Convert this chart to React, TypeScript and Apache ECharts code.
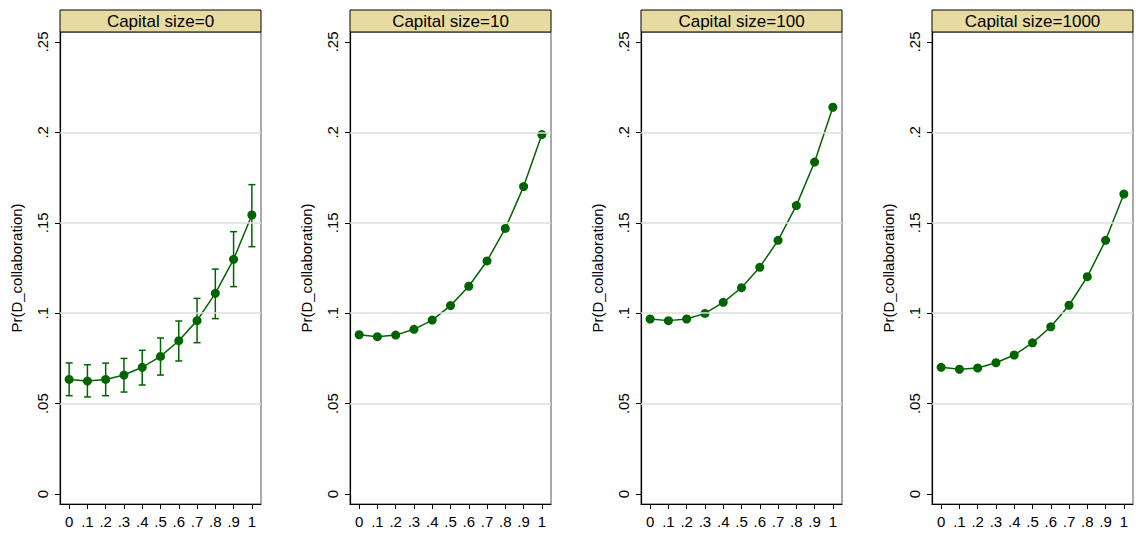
import React, { useEffect, useRef } from "react";
import * as echarts from "echarts";

const xValues = [0, 0.1, 0.2, 0.3, 0.4, 0.5, 0.6, 0.7, 0.8, 0.9, 1];
const yTicks = [0, 0.05, 0.1, 0.15, 0.2, 0.25];
const gridValues = [0.05, 0.1, 0.15, 0.2];
const panelTitles = ["Capital size=0", "Capital size=10", "Capital size=100", "Capital size=1000"];

const est0 = [0.0634, 0.0625, 0.0634, 0.0658, 0.0701, 0.0761, 0.0848, 0.0959, 0.111, 0.1298, 0.1543];
const lo0 = [0.0544, 0.0537, 0.0544, 0.0564, 0.0603, 0.0658, 0.0736, 0.0837, 0.097, 0.1147, 0.1368];
const hi0 = [0.0725, 0.0715, 0.0724, 0.075, 0.0795, 0.0863, 0.0957, 0.1082, 0.1244, 0.1451, 0.1711];

const est10 = [0.0881, 0.087, 0.0879, 0.0911, 0.0962, 0.1042, 0.1149, 0.1289, 0.1469, 0.17, 0.1988];
const lo10 = [0.0877, 0.0866, 0.0875, 0.0907, 0.0958, 0.1037, 0.1143, 0.1282, 0.1461, 0.1691, 0.1976];
const hi10 = [0.0885, 0.0874, 0.0883, 0.0915, 0.0966, 0.1047, 0.1155, 0.1296, 0.1477, 0.1709, 0.2];

const est100 = [0.0968, 0.0959, 0.0968, 0.0999, 0.106, 0.1141, 0.1254, 0.1403, 0.1595, 0.1836, 0.2139];
const est1000 = [0.0701, 0.069, 0.0697, 0.0726, 0.0769, 0.0836, 0.0925, 0.1044, 0.1202, 0.1403, 0.1659];

const panels = [
  { est: est0, lo: lo0, hi: hi0 },
  { est: est10, lo: lo10, hi: hi10 },
  { est: est100, lo: null, hi: null },
  { est: est1000, lo: null, hi: null },
];

const GREEN = "#006400";
const FONT = 'Arial, "Liberation Sans", Helvetica, sans-serif';
const lefts = [60, 350, 641, 932];
const W = 201;
const TOP = 32;
const H = 472;

function fmt(v: number) {
  if (v === 0) return "0";
  if (v === 1) return "1";
  return String(v).replace(/^0/, "");
}

export default function App() {
  const ref = useRef<HTMLDivElement>(null);
  useEffect(() => {
    if (!ref.current) return;
    const chart = echarts.init(ref.current, undefined, { renderer: "svg" });
    const grid: any[] = [];
    const xAxis: any[] = [];
    const yAxis: any[] = [];
    const series: any[] = [];
    const graphic: any[] = [];
    panels.forEach((p, i) => {
      grid.push({
        left: lefts[i],
        top: TOP,
        width: W,
        height: H,
        show: true,
        backgroundColor: "#fff",
        borderColor: "#555",
        borderWidth: 1,
      });
      xAxis.push({
        type: "value",
        gridIndex: i,
        min: -0.05,
        max: 1.05,
        axisLine: { show: true, onZero: false, lineStyle: { color: "#000", width: 1.2 } },
        axisTick: { show: true, length: 5, customValues: xValues, lineStyle: { color: "#000" } },
        axisLabel: {
          customValues: xValues,
          formatter: (v: number) => fmt(v),
          color: "#000",
          fontSize: 15,
          fontFamily: FONT,
          margin: 10,
        },
        splitLine: { show: false },
      });
      yAxis.push({
        type: "value",
        gridIndex: i,
        min: -0.0055,
        max: 0.2555,
        name: "Pr(D_collaboration)",
        nameLocation: "middle",
        nameRotate: 90,
        nameGap: 36,
        nameTextStyle: { color: "#000", fontSize: 15, fontFamily: FONT },
        axisLine: { show: true, onZero: false, lineStyle: { color: "#000", width: 1.2 } },
        axisTick: { show: true, length: 5, customValues: yTicks, lineStyle: { color: "#000" } },
        axisLabel: {
          customValues: yTicks,
          formatter: (v: number) => fmt(v),
          rotate: 90,
          color: "#000",
          fontSize: 15,
          fontFamily: FONT,
          margin: 10,
        },
        splitLine: { show: false },
      });
      const pts = xValues.map((x, k) => [x, p.est[k]]);
      series.push({
        type: "line",
        xAxisIndex: i,
        yAxisIndex: i,
        data: pts,
        symbol: "none",
        lineStyle: { opacity: 0 },
        silent: true,
        z: 1,
        markLine: {
          silent: true,
          symbol: ["none", "none"],
          label: { show: false },
          lineStyle: { color: "#dedede", width: 1.5, type: "solid" },
          data: gridValues.map((v) => ({ yAxis: v })),
        },
      });
      if (p.lo && p.hi) {
        const lo = p.lo;
        const hi = p.hi;
        series.push({
          type: "custom",
          xAxisIndex: i,
          yAxisIndex: i,
          z: 3,
          data: xValues.map((x, k) => [x, lo[k], hi[k]]),
          renderItem: (params: any, api: any) => {
            const x = api.value(0);
            const a = api.coord([x, api.value(1)]);
            const b = api.coord([x, api.value(2)]);
            const cw = 3.5;
            const style = { stroke: GREEN, lineWidth: 1.5 };
            return {
              type: "group",
              children: [
                { type: "line", shape: { x1: a[0], y1: a[1], x2: b[0], y2: b[1] }, style },
                { type: "line", shape: { x1: a[0] - cw, y1: a[1], x2: a[0] + cw, y2: a[1] }, style },
                { type: "line", shape: { x1: b[0] - cw, y1: b[1], x2: b[0] + cw, y2: b[1] }, style },
              ],
            };
          },
        });
      }
      series.push({
        type: "line",
        xAxisIndex: i,
        yAxisIndex: i,
        data: pts,
        symbol: "circle",
        symbolSize: 9,
        itemStyle: { color: GREEN },
        lineStyle: { color: GREEN, width: 1.5 },
        z: 4,
      });
      graphic.push({
        type: "group",
        children: [
          {
            type: "rect",
            shape: { x: lefts[i], y: 10, width: W, height: 22 },
            style: { fill: "#e8dba2", stroke: "#000", lineWidth: 1 },
          },
          {
            type: "text",
            x: lefts[i] + W / 2,
            y: 21,
            style: {
              text: panelTitles[i],
              fill: "#000",
              fontSize: 17,
              fontFamily: FONT,
              textAlign: "center",
              textVerticalAlign: "middle",
            },
          },
        ],
      });
    });
    chart.setOption({
      animation: false,
      backgroundColor: "#fff",
      grid,
      xAxis,
      yAxis,
      series,
      graphic,
    });
    return () => chart.dispose();
  }, []);
  return (
    <div
      ref={ref}
      style={{ position: "fixed", left: 0, top: 0, width: 1136, height: 534, background: "#fff" }}
    />
  );
}
